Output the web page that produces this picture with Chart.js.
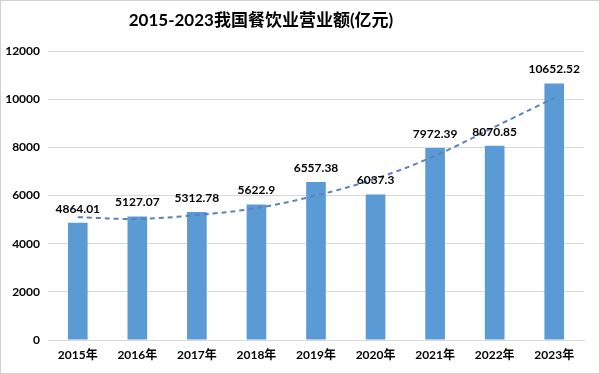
<!DOCTYPE html>
<html>
<head>
<meta charset="utf-8">
<script src="https://cdn.jsdelivr.net/npm/chart.js@4/dist/chart.umd.min.js"></script>
<style>
  html,body{margin:0;padding:0;background:#fff;}
  #wrap{width:600px;height:374px;position:relative;}
</style>
</head>
<body>
<div id="wrap"><canvas id="c" width="600" height="374"></canvas></div>
<script>
const titleText = '2015-2023我国餐饮业营业额(亿元)';
const categories = ['2015年','2016年','2017年','2018年','2019年','2020年','2021年','2022年','2023年'];
const revenue = [4864.01, 5127.07, 5312.78, 5622.9, 6557.38, 6037.3, 7972.39, 8070.85, 10652.52];
const revenueLabels = ['4864.01','5127.07','5312.78','5622.9','6557.38','6037.3','7972.39','8070.85','10652.52'];
const trend = [5100, 5030, 5190, 5480, 6000, 6700, 7650, 8850, 10050];
const yTicks = [0, 2000, 4000, 6000, 8000, 10000, 12000];

const FONT = "Lato, 'Noto Sans CJK SC', sans-serif";

const labelPlugin = {
  id: 'barLabels',
  afterDatasetsDraw(chart) {
    const ctx = chart.ctx;
    const meta = chart.getDatasetMeta(0);
    ctx.save();
    ctx.font = "bold 12px " + FONT;
    ctx.fillStyle = '#000';
    ctx.textAlign = 'center';
    ctx.textBaseline = 'middle';
    meta.data.forEach((bar, i) => {
      ctx.fillText(revenueLabels[i], bar.x, bar.y - 14);
    });
    ctx.restore();
  }
};

const framePlugin = {
  id: 'frame',
  beforeDraw(chart) {
    const ctx = chart.ctx;
    ctx.save();
    ctx.fillStyle = '#fff';
    ctx.fillRect(0, 0, chart.width, chart.height);
    ctx.restore();
  },
  afterDraw(chart) {
    const ctx = chart.ctx;
    ctx.save();
    ctx.strokeStyle = '#d0d0d0';
    ctx.lineWidth = 1;
    ctx.strokeRect(0.5, 0.5, chart.width - 1, chart.height - 1);
    ctx.font = "bold 17px " + FONT;
    ctx.fillStyle = '#000';
    ctx.textAlign = 'center';
    ctx.textBaseline = 'middle';
    ctx.fillText(titleText, 261, 21);
    ctx.restore();
  }
};

new Chart(document.getElementById('c'), {
  data: {
    labels: categories,
    datasets: [
      {
        type: 'bar',
        data: revenue,
        backgroundColor: '#5B9BD5',
        categoryPercentage: 1,
        barPercentage: 0.33,
        order: 2
      },
      {
        type: 'line',
        data: trend,
        borderColor: '#5B82B8',
        borderWidth: 2,
        borderDash: [5, 4],
        pointRadius: 0,
        tension: 0.4,
        fill: false,
        order: 1
      }
    ]
  },
  options: {
    responsive: false,
    animation: false,
    devicePixelRatio: 1,
    layout: { padding: { top: 51, right: 16, bottom: 4, left: 0 } },
    plugins: {
      legend: { display: false },
      title: { display: false },
      tooltip: { enabled: false }
    },
    scales: {
      x: {
        offset: true,
        grid: { display: false, drawTicks: false },
        border: { display: true, color: '#d9d9d9' },
        ticks: { color: '#000', font: { family: FONT, size: 12, weight: 'bold' }, padding: 8 },
        afterFit(s) { s.height = 30; }
      },
      y: {
        min: 0,
        max: 12000,
        afterBuildTicks(s) { s.ticks = yTicks.map(v => ({ value: v })); },
        grid: { color: '#d9d9d9', drawTicks: false },
        border: { display: false },
        ticks: {
          color: '#000',
          font: { family: FONT, size: 12, weight: 'bold' },
          padding: 8,
          callback: (v) => String(v)
        },
        afterFit(s) { s.width = 48; }
      }
    }
  },
  plugins: [labelPlugin, framePlugin]
});
</script>
</body>
</html>
